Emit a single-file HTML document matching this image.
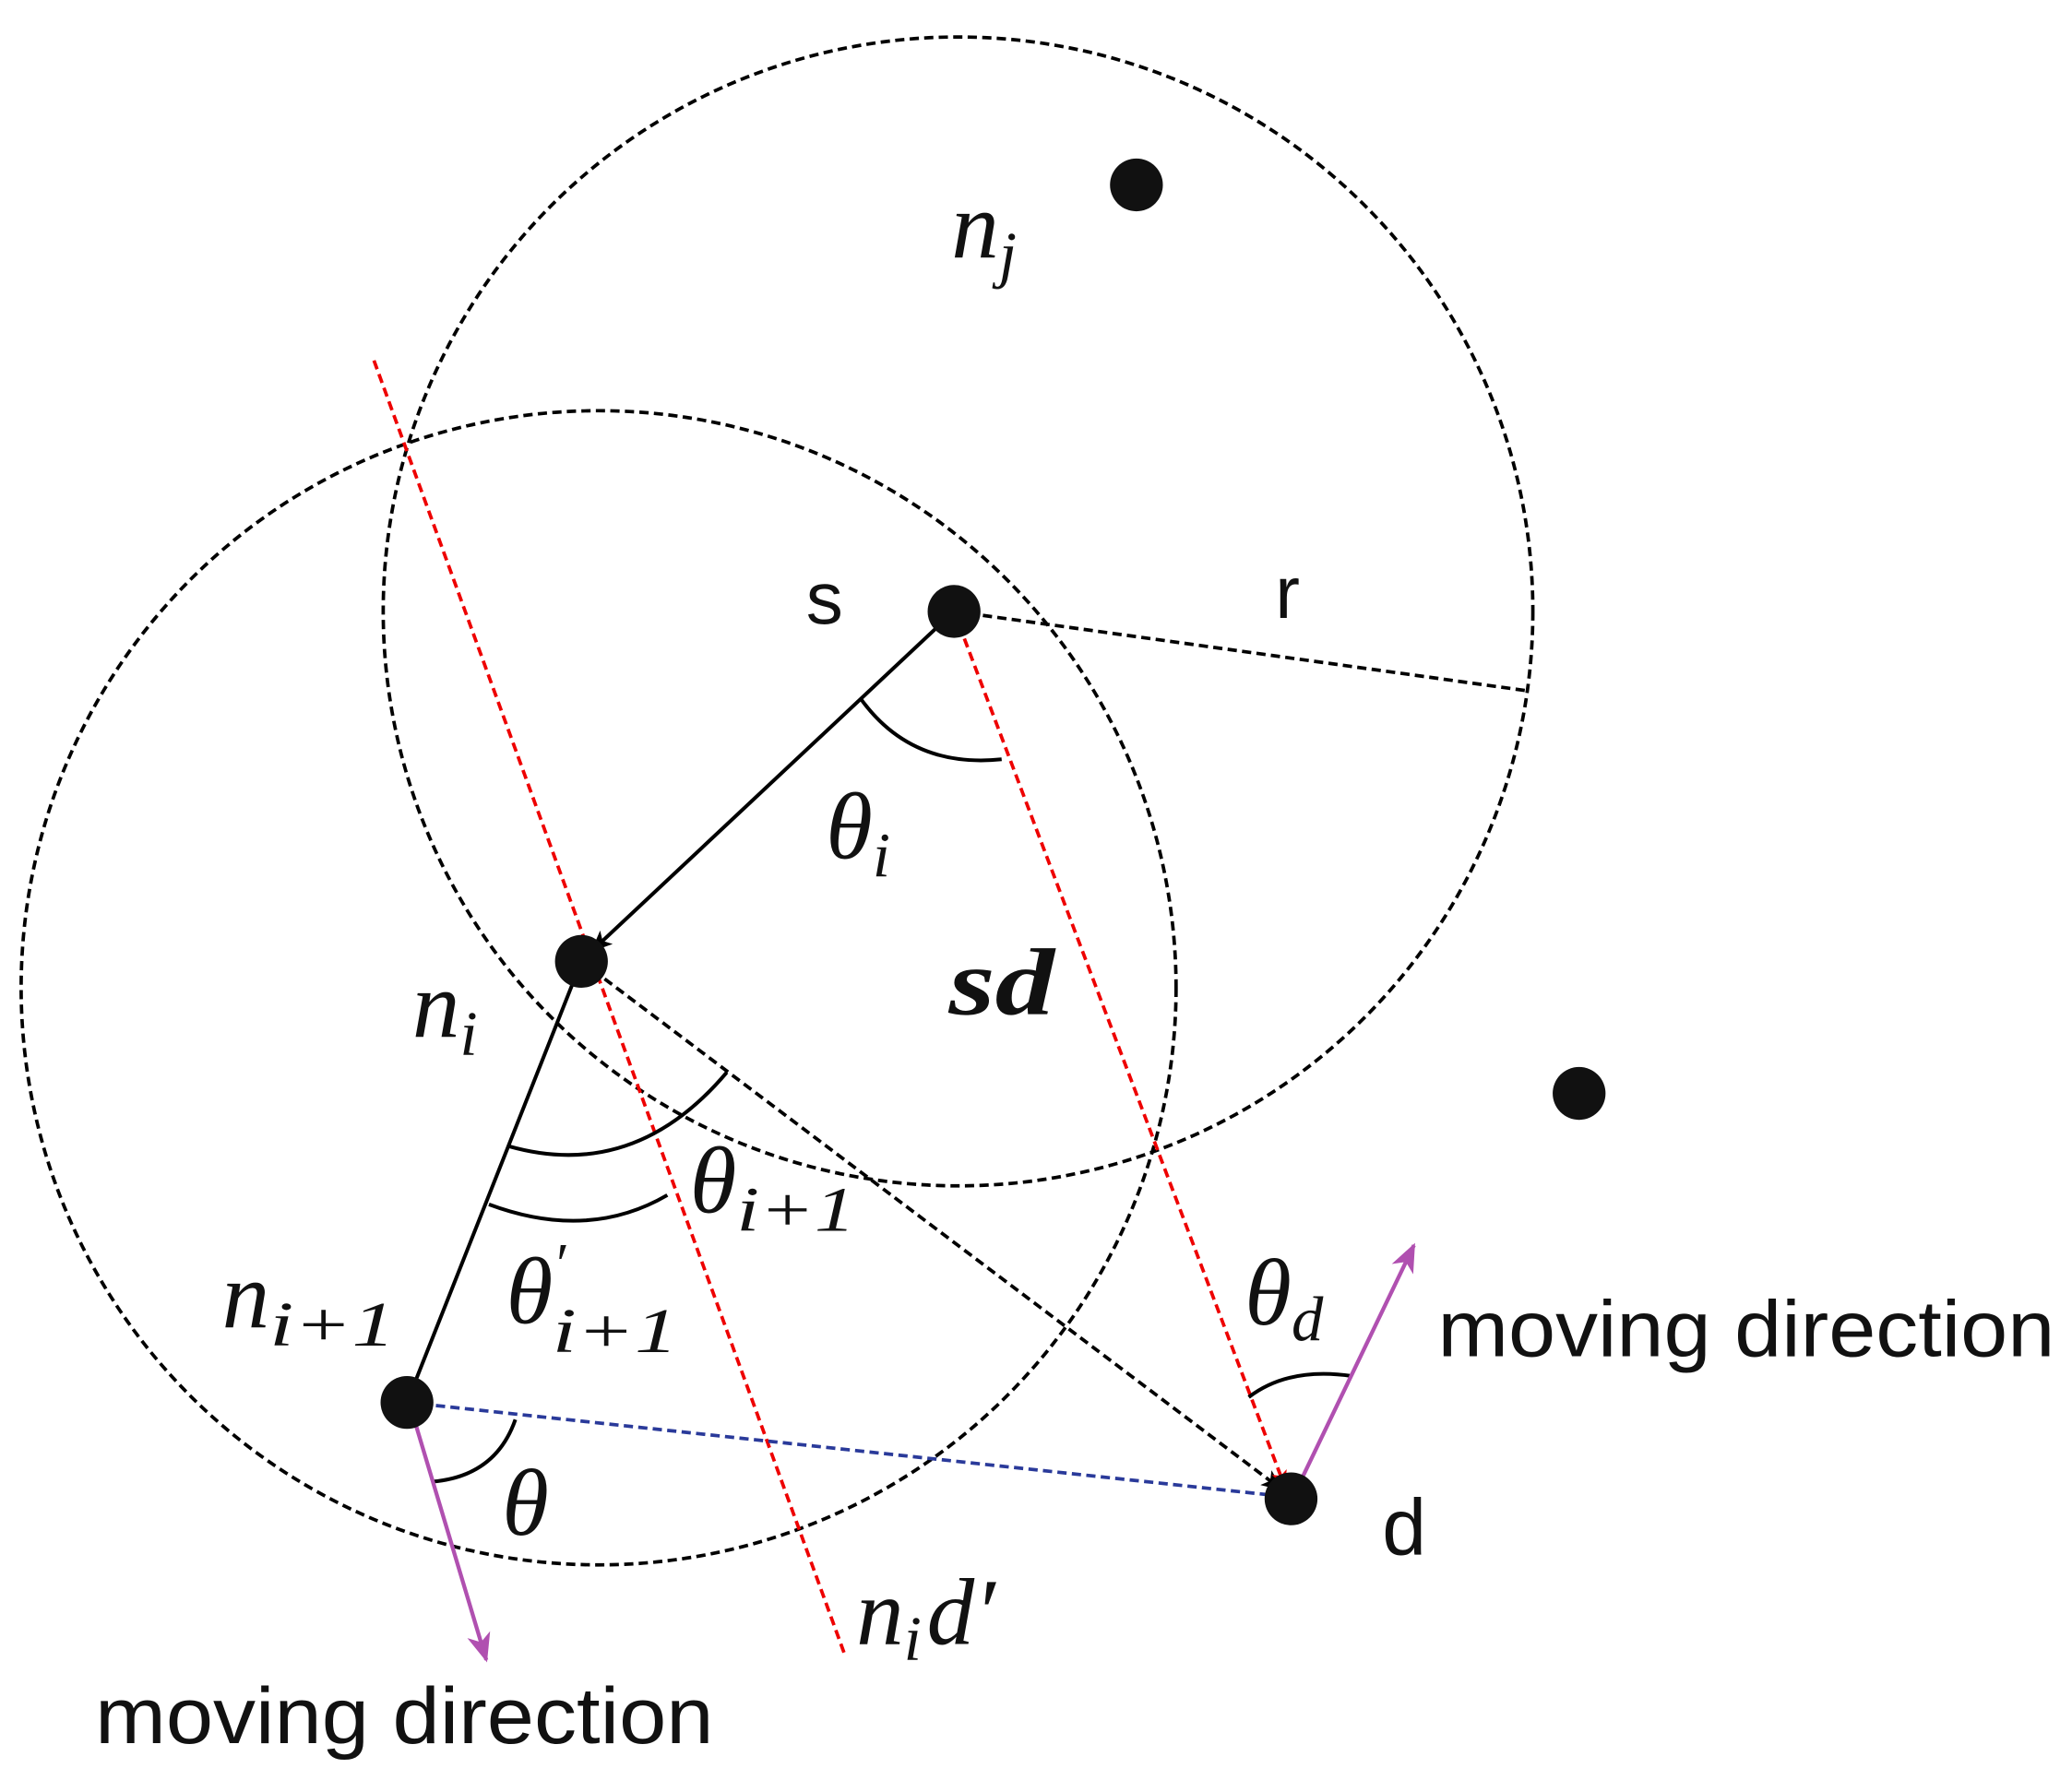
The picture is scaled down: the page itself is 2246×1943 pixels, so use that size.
<!DOCTYPE html>
<html><head><meta charset="utf-8"><style>
html,body{margin:0;padding:0;background:#fff;}
svg{display:block;}
.it{font-family:"Liberation Serif",serif;font-style:italic;}
.sn{font-family:"Liberation Sans",sans-serif;}
</style></head><body>
<svg width="2246" height="1943" viewBox="0 0 1568 1357" preserveAspectRatio="none" xmlns="http://www.w3.org/2000/svg">
<defs>
<marker id="ar" markerWidth="12" markerHeight="12" refX="11" refY="6" orient="auto" markerUnits="userSpaceOnUse"><path d="M0,0 L12,6 L0,12 L3,6 z" fill="#e00"/></marker>
<marker id="am" markerWidth="22" markerHeight="18" refX="20" refY="9" orient="auto" markerUnits="userSpaceOnUse"><path d="M0,0 L22,9 L0,18 L6,9 z" fill="#b050b0"/></marker>
<marker id="ak" markerWidth="16" markerHeight="14" refX="15" refY="7" orient="auto" markerUnits="userSpaceOnUse"><path d="M0,0 L16,7 L0,14 L4,7 z" fill="#000"/></marker>
</defs>
<g fill="none" stroke="#000" stroke-width="2.6" stroke-dasharray="7,4">
<circle cx="725" cy="463" r="435"/>
<circle cx="453" cy="748" r="437"/>
<line x1="722" y1="463" x2="1155" y2="523"/>
<line x1="440" y1="728" x2="970" y2="1128" marker-end="url(#ak)"/>
</g>
<g fill="none" stroke="#e00" stroke-width="2.6" stroke-dasharray="7,4">
<line x1="283" y1="273" x2="640" y2="1255"/>
<line x1="722" y1="463" x2="972" y2="1125" marker-end="url(#ar)"/>
</g>
<line x1="308" y1="1062" x2="970" y2="1133" stroke="#2a3a9a" stroke-width="2.6" stroke-dasharray="7,4"/>
<g stroke="#000" stroke-width="2.8" fill="none">
<line x1="722" y1="463" x2="448" y2="720" marker-end="url(#ak)"/>
<line x1="440" y1="728" x2="308" y2="1062"/>
<path d="M652,530 Q690,582 758,575"/>
<path d="M385,868 Q480,895 550,812"/>
<path d="M370,912 Q445,940 505,905"/>
<path d="M327,1122 Q375,1118 390,1075"/>
<path d="M945,1058 Q975,1035 1023,1042"/>
</g>
<g stroke="#b050b0" stroke-width="3">
<line x1="312" y1="1070" x2="368" y2="1257" marker-end="url(#am)"/>
<line x1="985" y1="1120" x2="1070" y2="943" marker-end="url(#am)"/>
</g>
<g fill="#111">
<circle cx="722" cy="463" r="20"/>
<circle cx="860" cy="140" r="20"/>
<circle cx="440" cy="728" r="20"/>
<circle cx="308" cy="1062" r="20"/>
<circle cx="977" cy="1135" r="20"/>
<circle cx="1195" cy="828" r="20"/>
</g>
<g fill="#111">
<text x="610" y="472" class="sn" font-size="56">s</text>
<text x="965" y="468" class="sn" font-size="56">r</text>
<text x="1046" y="1177" class="sn" font-size="60">d</text>
<text x="1088" y="1027" class="sn" font-size="60" textLength="467" lengthAdjust="spacingAndGlyphs">moving direction</text>
<text x="72" y="1320" class="sn" font-size="60" textLength="468" lengthAdjust="spacingAndGlyphs">moving direction</text>
<text x="720" y="195" class="it" font-size="72">n<tspan font-size="48" dy="14">j</tspan></text>
<text x="625" y="650" class="it" font-size="72">θ<tspan font-size="48" dy="14">i</tspan></text>
<text x="718" y="768" class="it" font-size="72" font-weight="bold" textLength="80" lengthAdjust="spacingAndGlyphs">sd</text>
<text x="312" y="785" class="it" font-size="72">n<tspan font-size="48" dy="14">i</tspan></text>
<text x="522" y="918" class="it" font-size="72">θ<tspan font-size="48" dy="14" textLength="90" lengthAdjust="spacingAndGlyphs">i+1</tspan></text>
<text x="383" y="1002" class="it" font-size="72">θ<tspan font-size="44" dy="-30">′</tspan><tspan font-size="48" dx="-10" dy="52" textLength="95" lengthAdjust="spacingAndGlyphs">i+1</tspan></text>
<text x="168" y="1005" class="it" font-size="72">n<tspan font-size="48" dy="14" textLength="95" lengthAdjust="spacingAndGlyphs">i+1</tspan></text>
<text x="380" y="1162" class="it" font-size="72">θ</text>
<text x="942" y="1003" class="it" font-size="72">θ<tspan font-size="48" dy="12">d</tspan></text>
<text x="648" y="1245" class="it" font-size="72">n<tspan font-size="48" dy="12">i</tspan><tspan dy="-12" dx="4">d′</tspan></text>
</g>
</svg>
</body></html>
